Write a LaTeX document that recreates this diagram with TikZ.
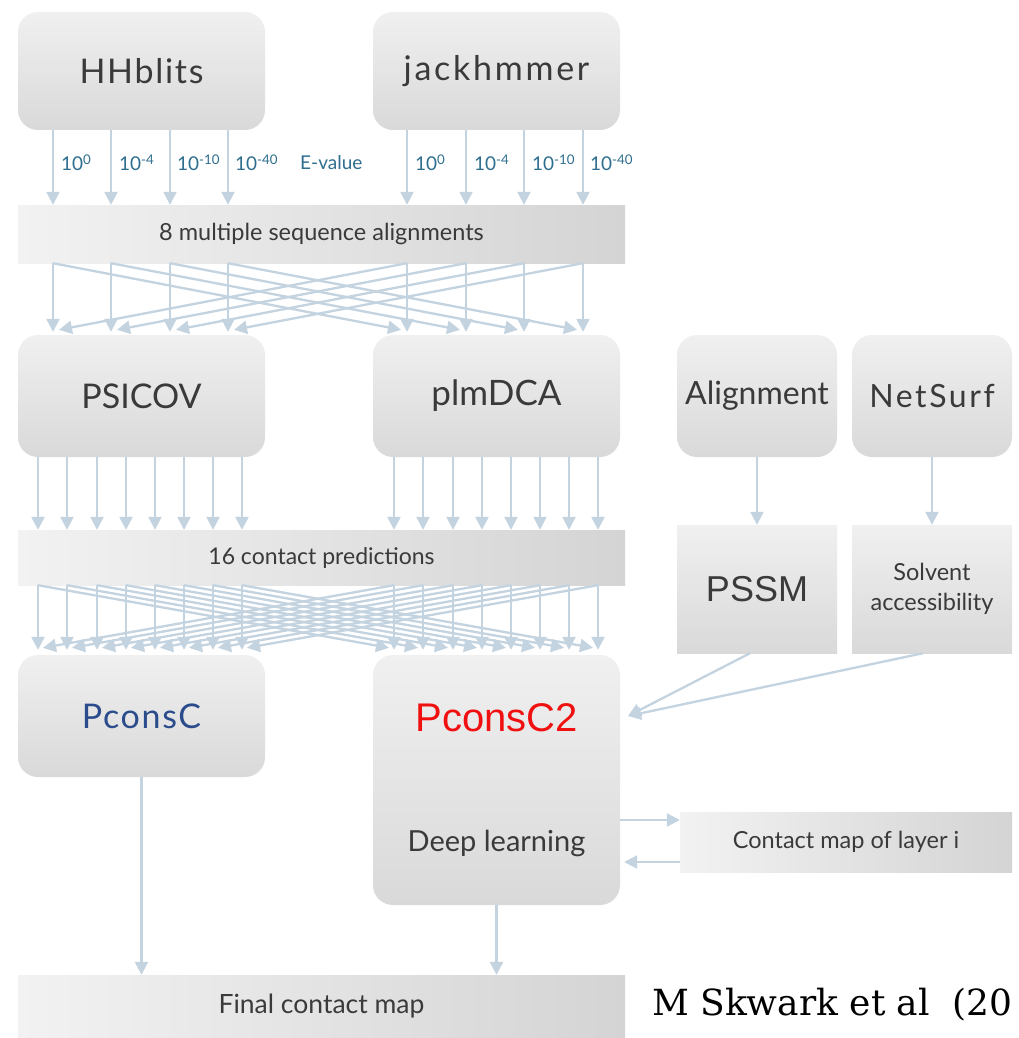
\documentclass[tikz,border=0pt]{standalone}
\usepackage{fontspec}
\setmainfont{Lato}
\newfontfamily\arialf{Liberation Sans}
\newfontfamily\seriff{DejaVu Serif}
\newfontfamily\spA[LetterSpace=8]{Lato}
\newfontfamily\spB[LetterSpace=5]{Lato}
\usetikzlibrary{arrows.meta,calc}
\definecolor{arrc}{HTML}{C3D3E0}
\definecolor{boxtop}{HTML}{F0F0F0}
\definecolor{boxbot}{HTML}{D9D9D9}
\definecolor{barl}{HTML}{F2F2F2}
\definecolor{barr}{HTML}{D4D4D4}
\definecolor{lblc}{HTML}{2E6E8E}
\definecolor{txtc}{HTML}{3A3A3A}
\definecolor{pcblue}{HTML}{2B4C8C}
\definecolor{pcred}{HTML}{F01010}
\tikzset{
  rbox/.style={rounded corners=20pt, top color=boxtop, bottom color=boxbot, draw=none, text=txtc, inner sep=0pt},
  sbox/.style={top color=boxtop, bottom color=boxbot, draw=none, text=txtc, inner sep=0pt},
  bar/.style={left color=barl, right color=barr, draw=none, text=txtc, inner sep=0pt},
  arr/.style={draw=arrc, line width=2.3pt, -{Triangle[width=13pt,length=13pt,fill=arrc]}},
  evl/.style={text=lblc, font=\fontsize{19}{21}\selectfont, anchor=west, inner sep=0pt},
  lab/.style={text=txtc, inner sep=0pt}
}
\begin{document}
\begin{tikzpicture}[x=1pt,y=-1pt]
\useasboundingbox (0,0) rectangle (1019,1038);
\fill[white] (0,0) rectangle (1019,1038);
% boxes
\node[rbox, minimum width=247pt, minimum height=118pt, font=\spB\fontsize{34}{38}\selectfont] (hh) at (141.5,71) {HHblits};
\node[rbox, minimum width=247pt, minimum height=118pt, font=\spA\fontsize{34}{38}\selectfont] (jh) at (496.5,71) {jackhmmer};
\node[bar, minimum width=607pt, minimum height=58pt, font=\fontsize{23.5}{26}\selectfont] (msa) at (321.5,234) {8 multiple sequence alignments};
\node[rbox, minimum width=247pt, minimum height=122pt, font=\fontsize{34}{38}\selectfont] (psicov) at (141.5,396) {PSICOV};
\node[rbox, minimum width=247pt, minimum height=122pt, font=\fontsize{35}{38}\selectfont] (plm) at (496.5,396) {plmDCA};
\node[rbox, minimum width=160pt, minimum height=122pt, font=\fontsize{32}{36}\selectfont] (aln) at (757,396) {Alignment};
\node[rbox, minimum width=160pt, minimum height=122pt, font=\spA\fontsize{32}{36}\selectfont] (ns) at (932,396) {NetSurf};
\node[bar, minimum width=607pt, minimum height=55pt, font=\fontsize{23}{26}\selectfont] (cp) at (321.5,557.5) {16 contact predictions};
\node[sbox, minimum width=160pt, minimum height=128pt, font=\arialf\fontsize{36}{40}\selectfont] (pssm) at (757,589) {PSSM};
\node[sbox, minimum width=160pt, minimum height=128pt, font=\fontsize{23.5}{30}\selectfont, align=center] (solv) at (932,589) {Solvent\\accessibility};
\node[rbox, minimum width=247pt, minimum height=122pt, font=\spB\fontsize{34}{38}\selectfont, text=pcblue] (pc) at (141.5,716) {PconsC};
\node[rbox, minimum width=247pt, minimum height=250pt] (pc2) at (496.5,780) {};
\node[lab, font=\arialf\fontsize{40}{44}\selectfont, text=pcred] (pc2t) at (496.5,718) {PconsC2};
\node[lab, font=\fontsize{29}{32}\selectfont] (dl) at (496.5,843) {Deep learning};
\node[bar, minimum width=332pt, minimum height=60pt, font=\fontsize{23.5}{26}\selectfont] (cm) at (846,842) {Contact map of layer i};
\node[bar, minimum width=607pt, minimum height=63pt, font=\fontsize{26.5}{30}\selectfont] (fin) at (321.5,1006.5) {Final contact map};
\node[anchor=west, inner sep=0pt, font=\seriff\fontsize{36}{40}\selectfont] (cite) at (652,1005) {M Skwark et al~~(20};
% E-value arrows and labels
\foreach \x in {53,111,170,228}{\draw[arr] (\x,0 |- hh.south) -- (\x,0 |- msa.north);}
\foreach \x in {407,466,524,583}{\draw[arr] (\x,0 |- jh.south) -- (\x,0 |- msa.north);}
\node[evl] (e1) at (61,163) {10\textsuperscript{0}};
\node[evl] (e2) at (119,163) {10\textsuperscript{-4}};
\node[evl] (e3) at (177,163) {10\textsuperscript{-10}};
\node[evl] (e4) at (235,163) {10\textsuperscript{-40}};
\node[evl] (ev) at (300,163) {E-value};
\node[evl] (e5) at (415,163) {10\textsuperscript{0}};
\node[evl] (e6) at (474,163) {10\textsuperscript{-4}};
\node[evl] (e7) at (532,163) {10\textsuperscript{-10}};
\node[evl] (e8) at (590,163) {10\textsuperscript{-40}};
% first crossing
\foreach \a/\b in {53/407,111/466,170/524,228/583}{
  \draw[arr] (\a,0 |- msa.south) -- ($(\a,0 |- psicov.north)+(0,-3)$);
  \draw[arr] (\b,0 |- msa.south) -- ($(\b,0 |- plm.north)+(0,-3)$);
  \draw[arr] (\a,0 |- msa.south) -- ($(\b,0 |- plm.north)+(-6,-5)$);
  \draw[arr] (\b,0 |- msa.south) -- ($(\a,0 |- psicov.north)+(6,-5)$);
}
% psicov/plm to contact predictions
\foreach \x in {38,67,97,126,155,184,213,242}{\draw[arr] (\x,0 |- psicov.south) -- (\x,0 |- cp.north);}
\foreach \x in {394,423,453,482,511,540,569,598}{\draw[arr] (\x,0 |- plm.south) -- (\x,0 |- cp.north);}
% second crossing
\foreach \a/\b in {38/394,67/423,97/453,126/482,155/511,184/540,213/569,242/598}{
  \draw[arr] (\a,0 |- cp.south) -- ($(\a,0 |- pc.north)+(0,-5)$);
  \draw[arr] (\b,0 |- cp.south) -- ($(\b,0 |- pc2.north)+(0,-5)$);
  \draw[arr] (\a,0 |- cp.south) -- ($(\b,0 |- pc2.north)+(-5,-7)$);
  \draw[arr] (\b,0 |- cp.south) -- ($(\a,0 |- pc.north)+(5,-7)$);
}
% right column
\draw[arr] (aln.south) -- (pssm.north);
\draw[arr] (ns.south) -- (solv.north);
\coordinate (in2) at (628,716);
\draw[arr] ($(pssm.south)+(-7,0)$) -- (in2);
\draw[arr] ($(solv.south)+(-9,0)$) -- (in2);
\draw[arr] (pc2.east |- 0,820) -- (cm.west |- 0,820);
\draw[arr] (cm.west |- 0,862) -- ($(pc2.east |- 0,862)+(4,0)$);
% to final
\draw[arr] (pc.south) -- (pc.south |- fin.north);
\draw[arr] (pc2.south) -- (pc2.south |- fin.north);
\end{tikzpicture}
\end{document}
